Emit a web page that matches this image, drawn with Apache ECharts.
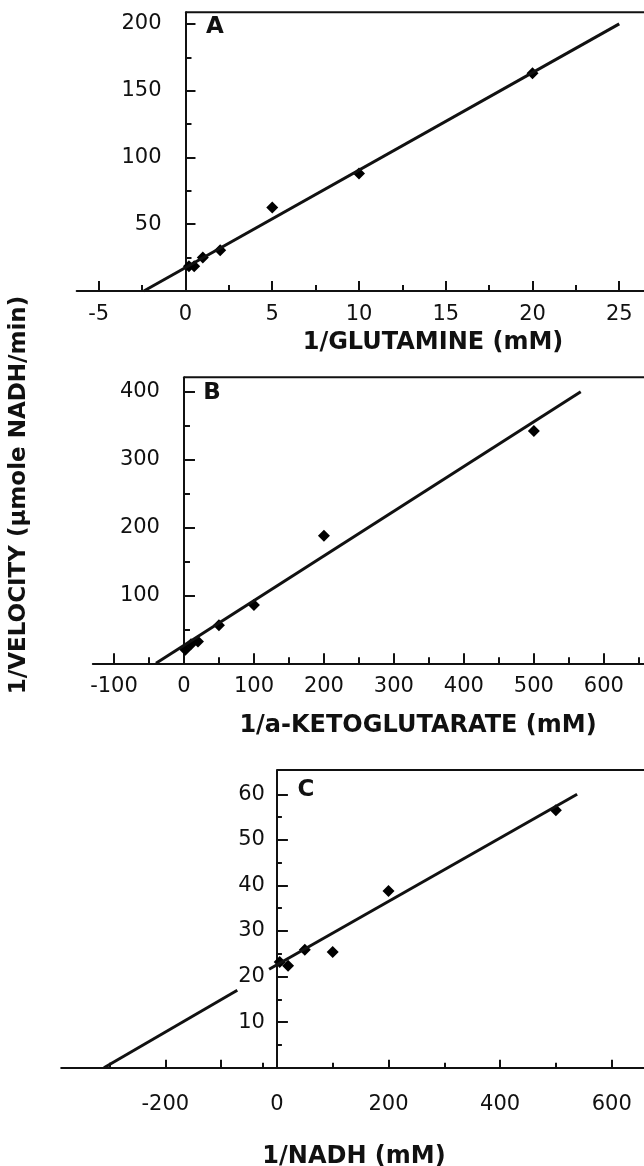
<!DOCTYPE html>
<html>
<head>
<meta charset="utf-8">
<script src="https://cdn.jsdelivr.net/npm/echarts@6/dist/echarts.min.js"></script>
<style>
  html, body { margin: 0; padding: 0; background: #fff; }
  #main { width: 644px; height: 1166px; }
</style>
</head>
<body>
<div id="main"></div>
<script>
// panel A: 1/glutamine
var xA = [0.2, 0.5, 1, 2, 5, 10, 20];
var yA = [18.5, 18.5, 25, 30.5, 62.5, 88, 163];
var fitA = [[-2.4, 0], [25, 200]];
var xTicksA = [-5, 0, 5, 10, 15, 20, 25];
var xMinorA = [-2.5, 2.5, 7.5, 12.5, 17.5, 22.5, 27.5];
var yTicksA = [50, 100, 150, 200];
var yMinorA = [25, 75, 125, 175];

// panel B: 1/a-ketoglutarate
var xB = [2, 10, 20, 50, 100, 200, 500];
var yB = [20, 28, 32, 56, 86, 188, 342];
var fitB = [[-40, 0], [567, 400]];
var xTicksB = [-100, 0, 100, 200, 300, 400, 500, 600];
var xMinorB = [-50, 50, 150, 250, 350, 450, 550, 650];
var yTicksB = [100, 200, 300, 400];
var yMinorB = [50, 150, 250, 350];

// panel C: 1/NADH
var xC = [5, 20, 50, 100, 200, 500];
var yC = [23.2, 22.4, 25.9, 25.4, 38.8, 56.5];
var fitC1 = [[-310, 0], [-71, 17]];
var fitC2 = [[-14, 21.6], [538, 60]];
var xTicksC = [-200, -100, 0, 200, 400, 600];
var xLabelsC = [-200, 0, 200, 400, 600];
var xMinorC = [-300, -25, 100, 300, 500];
var yTicksC = [10, 20, 30, 40, 50, 60];
var yMinorC = [5, 15, 25, 35, 45, 55];

var numFont = 'DejaVu Sans';
var ink = '#111';

function pairs(xs, ys) {
    return xs.map(function (x, i) { return [x, ys[i]]; });
}

// one panel = grid + major/minor x axes + major/minor y axes
var grids = [], xAxes = [], yAxes = [], series = [];
function addPanel(p) {
    var g = grids.length;
    grids.push({ left: p.left, top: p.top, width: p.width, height: p.height, outerBoundsMode: 'none' });
    // y axis sits at x = 0, pushed in from the grid's left edge
    var yOff = -(0 - p.xMin) * p.width / (p.xMax - p.xMin);
    xAxes.push({
        type: 'value', gridIndex: g, min: p.xMin, max: p.xMax, position: 'bottom',
        splitLine: { show: false },
        axisLine: { onZero: false, lineStyle: { color: ink, width: 2 } },
        axisTick: { inside: true, length: p.xTickLen, customValues: p.xTicks, lineStyle: { color: ink, width: 2 } },
        axisLabel: { customValues: p.xLabels, margin: p.xLabelMargin, color: ink,
            fontFamily: numFont, fontSize: 21 }
    });
    xAxes.push({
        type: 'value', gridIndex: g, min: p.xMin, max: p.xMax, position: 'bottom',
        splitLine: { show: false },
        axisLine: { show: false, onZero: false },
        axisTick: { inside: true, length: p.xMinorLen, customValues: p.xMinor, lineStyle: { color: ink, width: 2 } },
        axisLabel: { show: false }
    });
    yAxes.push({
        type: 'value', gridIndex: g, min: 0, max: p.yMax, position: 'left', offset: yOff,
        splitLine: { show: false },
        axisLine: { onZero: false, lineStyle: { color: ink, width: 2 } },
        axisTick: { inside: true, length: p.yTickLen, customValues: p.yTicks, lineStyle: { color: ink, width: 2 } },
        axisLabel: { customValues: p.yTicks, margin: p.yLabelMargin, color: ink,
            fontFamily: numFont, fontSize: 21 }
    });
    yAxes.push({
        type: 'value', gridIndex: g, min: 0, max: p.yMax, position: 'left', offset: yOff,
        splitLine: { show: false },
        axisLine: { show: false, onZero: false },
        axisTick: { inside: true, length: p.yMinorLen, customValues: p.yMinor, lineStyle: { color: ink, width: 2 } },
        axisLabel: { show: false }
    });
    var ax = g * 2;
    // top frame line from x=0 to the right edge
    series.push({
        type: 'line', xAxisIndex: ax, yAxisIndex: ax, clip: false, silent: true,
        symbol: 'none', lineStyle: { color: ink, width: 2 },
        data: [[0, p.yMax], [p.xMax, p.yMax]]
    });
    p.fits.forEach(function (f) {
        series.push({
            type: 'line', xAxisIndex: ax, yAxisIndex: ax, symbol: 'none',
            lineStyle: { color: ink, width: 3 }, data: f
        });
    });
    series.push({
        type: 'scatter', xAxisIndex: ax, yAxisIndex: ax,
        symbol: 'diamond', symbolSize: 12, itemStyle: { color: '#000', opacity: 1 },
        data: p.points
    });
}

addPanel({
    left: 76.7, top: 12.3, width: 629.3, height: 278.7,
    xMin: -6.27, xMax: 30, yMax: 208.7,
    xTicks: xTicksA, xLabels: xTicksA, xMinor: xMinorA, yTicks: yTicksA, yMinor: yMinorA,
    xTickLen: 10, xMinorLen: 6, yTickLen: 10, yMinorLen: 6,
    xLabelMargin: 13, yLabelMargin: 24,
    fits: [fitA], points: pairs(xA, yA)
});
addPanel({
    left: 92.8, top: 377.3, width: 581, height: 286,
    xMin: -130.3, xMax: 700, yMax: 421.2,
    xTicks: xTicksB, xLabels: xTicksB, xMinor: xMinorB, yTicks: yTicksB, yMinor: yMinorB,
    xTickLen: 10, xMinorLen: 6, yTickLen: 11, yMinorLen: 6,
    xLabelMargin: 13, yLabelMargin: 24,
    fits: [fitB], points: pairs(xB, yB)
});
addPanel({
    left: 61.2, top: 770, width: 606.3, height: 297.7,
    xMin: -386.6, xMax: 700, yMax: 65.33,
    xTicks: xTicksC, xLabels: xLabelsC, xMinor: xMinorC, yTicks: yTicksC, yMinor: yMinorC,
    xTickLen: 8, xMinorLen: 5, yTickLen: 11, yMinorLen: 5,
    xLabelMargin: 26, yLabelMargin: 12,
    fits: [fitC1, fitC2], points: pairs(xC, yC)
});

var boldFont = 'bold 24px "DejaVu Sans"';
function label(text, x, y, font, rot) {
    return {
        type: 'text', x: x, y: y, rotation: rot || 0, silent: true,
        style: { text: text, font: font, fill: ink, align: 'center', verticalAlign: 'middle' }
    };
}

var option = {
    animation: false,
    backgroundColor: '#fff',
    grid: grids,
    xAxis: xAxes,
    yAxis: yAxes,
    series: series,
    graphic: [
        label('1/GLUTAMINE (mM)', 433, 343, boldFont),
        label('1/a-KETOGLUTARATE (mM)', 418, 726, boldFont),
        label('1/NADH (mM)', 354, 1157, boldFont),
        label('1/VELOCITY (µmole NADH/min)', 19, 495, 'bold 23px "DejaVu Sans"', Math.PI / 2),
        label('A', 215, 27, 'bold 23px "DejaVu Sans"'),
        label('B', 212, 393, 'bold 23px "DejaVu Sans"'),
        label('C', 306, 790, 'bold 23px "DejaVu Sans"')
    ]
};

var myChart = echarts.init(document.getElementById('main'));
myChart.setOption(option);
</script>
</body>
</html>
